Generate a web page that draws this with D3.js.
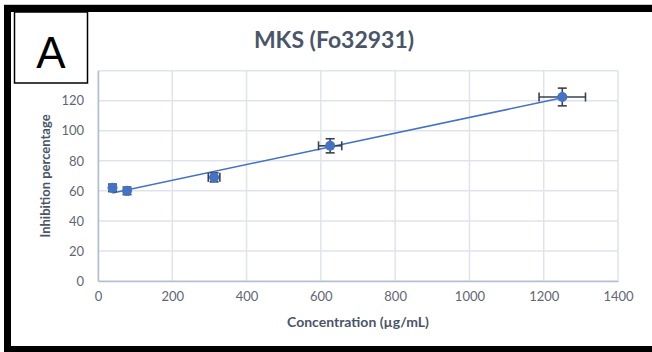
<!DOCTYPE html>
<html>
<head>
<meta charset="utf-8">
<script src="https://cdn.jsdelivr.net/npm/d3@7"></script>
<style>
  html, body { margin: 0; padding: 0; background: #fff; }
  svg { display: block; }
</style>
</head>
<body>
<svg id="chart" width="652" height="352"></svg>
<script>
// Concentration (µg/mL) and mean inhibition (%) with their spreads
const concentration = [39.06, 78.125, 312.5, 625, 1250];
const inhibition    = [62, 60, 69, 90, 122.5];
const inhibitionErr = [2.5, 2.5, 3, 4.7, 5.9];
const concentrationErr = concentration.map(c => c * 0.05);
const xTicks = [0, 200, 400, 600, 800, 1000, 1200, 1400];
const yTicks = [0, 20, 40, 60, 80, 100, 120];
const yGrid  = [0, 20, 40, 60, 80, 100, 120, 140];

const svg = d3.select("#chart");
const W = 652, H = 352;
const plot = { left: 98, right: 618, top: 70.7, bottom: 281 };
const font = "Lato, 'Open Sans', sans-serif";

const x = d3.scaleLinear().domain([0, 1400]).range([plot.left, plot.right]);
const y = d3.scaleLinear().domain([0, 140]).range([plot.bottom, plot.top]);

svg.append("rect").attr("width", W).attr("height", H).attr("fill", "#fff");

// gridlines
const grid = svg.append("g");
grid.selectAll("line.v").data(xTicks).join("line")
  .attr("x1", d => x(d)).attr("x2", d => x(d))
  .attr("y1", plot.top).attr("y2", plot.bottom)
  .attr("stroke", "#DFE4EC").attr("stroke-width", 1.5);
grid.selectAll("line.h").data(yGrid).join("line")
  .attr("x1", plot.left).attr("x2", plot.right)
  .attr("y1", d => y(d)).attr("y2", d => y(d))
  .attr("stroke", "#DFE4EC").attr("stroke-width", 1.5);

// axes
const xAxis = svg.append("g").attr("transform", `translate(0,${plot.bottom})`)
  .call(d3.axisBottom(x).tickValues(xTicks).tickFormat(d3.format("d"))
    .tickSize(0).tickPadding(11));
const yAxis = svg.append("g").attr("transform", `translate(${plot.left},0)`)
  .call(d3.axisLeft(y).tickValues(yTicks).tickFormat(d3.format("d"))
    .tickSize(0).tickPadding(14));
[xAxis, yAxis].forEach(a => {
  a.select(".domain").attr("stroke", "#B3BFD1").attr("stroke-width", 1.5);
  a.selectAll("text").attr("fill", "#5F6673").attr("font-family", font)
    .attr("font-size", 13);
});

// linear trendline over the measured range
const mx = d3.mean(concentration), my = d3.mean(inhibition);
const slope = d3.sum(concentration, (c, i) => (c - mx) * (inhibition[i] - my)) /
              d3.sum(concentration, c => (c - mx) ** 2);
const intercept = my - slope * mx;
const x0 = d3.min(concentration), x1 = d3.max(concentration);
svg.append("line")
  .attr("x1", x(x0)).attr("y1", y(intercept + slope * x0))
  .attr("x2", x(x1)).attr("y2", y(intercept + slope * x1))
  .attr("stroke", "#4472C4").attr("stroke-width", 1.5);

// error bars
const pts = concentration.map((c, i) => ({
  c, v: inhibition[i], ey: inhibitionErr[i], ex: concentrationErr[i]
}));
const eb = svg.append("g").attr("stroke", "#3B4150").attr("stroke-width", 1.6);
pts.forEach(p => {
  const cx = x(p.c), cy = y(p.v);
  const yt = y(p.v + p.ey), yb = y(p.v - p.ey);
  const xl = x(p.c - p.ex), xr = x(p.c + p.ex);
  eb.append("line").attr("x1", cx).attr("x2", cx).attr("y1", yt).attr("y2", yb);
  eb.append("line").attr("x1", cx - 4.5).attr("x2", cx + 4.5).attr("y1", yt).attr("y2", yt);
  eb.append("line").attr("x1", cx - 4.5).attr("x2", cx + 4.5).attr("y1", yb).attr("y2", yb);
  eb.append("line").attr("x1", xl).attr("x2", xr).attr("y1", cy).attr("y2", cy);
  eb.append("line").attr("x1", xl).attr("x2", xl).attr("y1", cy - 4.5).attr("y2", cy + 4.5);
  eb.append("line").attr("x1", xr).attr("x2", xr).attr("y1", cy - 4.5).attr("y2", cy + 4.5);
});

// markers
svg.append("g").selectAll("circle").data(pts).join("circle")
  .attr("cx", d => x(d.c)).attr("cy", d => y(d.v)).attr("r", 5)
  .attr("fill", "#4472C4");

// titles
svg.append("text").attr("x", 334).attr("y", 48).attr("text-anchor", "middle")
  .attr("font-family", font).attr("font-weight", "bold").attr("font-size", 23)
  .attr("fill", "#4A5568").text("MKS (Fo32931)");
svg.append("text").attr("x", 358).attr("y", 327).attr("text-anchor", "middle")
  .attr("font-family", font).attr("font-weight", "bold").attr("font-size", 14)
  .attr("fill", "#4A5568").text("Concentration (µg/mL)");
svg.append("text")
  .attr("transform", `translate(50,176) rotate(-90)`).attr("text-anchor", "middle")
  .attr("font-family", font).attr("font-weight", "bold").attr("font-size", 13)
  .attr("fill", "#4A5568").text("Inhibition percentage");

// panel label box
svg.append("rect").attr("x", 14.5).attr("y", 12).attr("width", 73).attr("height", 71)
  .attr("fill", "#fff").attr("stroke", "#000").attr("stroke-width", 1.5);
svg.append("text").attr("x", 51).attr("y", 68).attr("text-anchor", "middle")
  .attr("font-family", "'Liberation Sans', Arial, sans-serif").attr("font-size", 44)
  .attr("fill", "#000").text("A");

// outer frame
svg.append("line").attr("x1", 4).attr("x2", W).attr("y1", 4.5).attr("y2", 4.5)
  .attr("stroke", "#C8C8C8").attr("stroke-width", 1);
svg.append("rect").attr("x", 4).attr("y", 5).attr("width", W - 4).attr("height", 7).attr("fill", "#000");
svg.append("rect").attr("x", 4).attr("y", 5).attr("width", 7).attr("height", H - 5).attr("fill", "#000");
svg.append("rect").attr("x", 4).attr("y", 346).attr("width", W - 4).attr("height", 6).attr("fill", "#000");
</script>
</body>
</html>
